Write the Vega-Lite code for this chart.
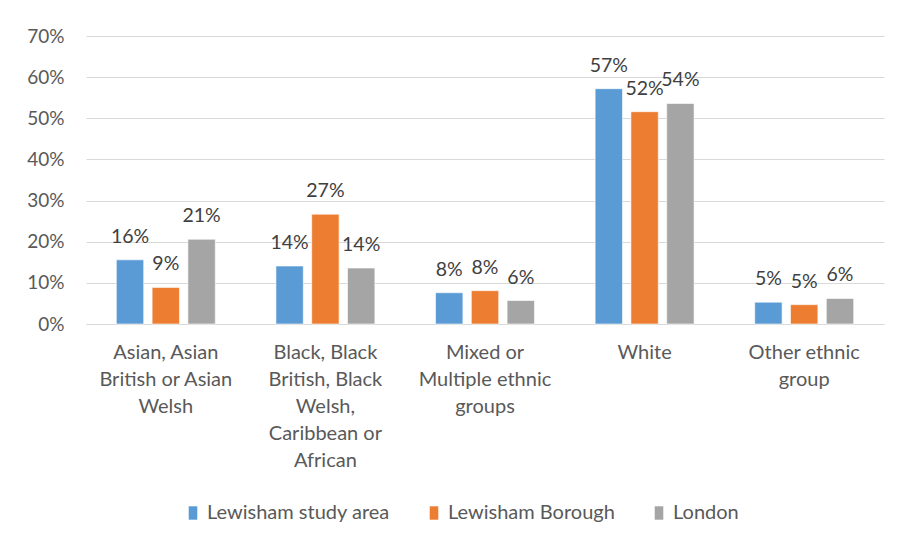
{
  "$schema": "https://vega.github.io/schema/vega-lite/v6.json",
  "width": 798,
  "height": 288,
  "autosize": "none",
  "padding": {"left": 86, "top": 36, "right": 13, "bottom": 222},
  "background": "white",
  "config": {
    "font": "Lato",
    "view": {"stroke": null},
    "axis": {"labelFont": "Lato", "labelColor": "#595959", "labelFontSize": 19}
  },
  "data": {
    "values": [
      {"group": "Asian, Asian British or Asian Welsh", "area": "Lewisham study area", "share": 0.156},
      {"group": "Asian, Asian British or Asian Welsh", "area": "Lewisham Borough", "share": 0.089},
      {"group": "Asian, Asian British or Asian Welsh", "area": "London", "share": 0.206},
      {"group": "Black, Black British, Black Welsh, Caribbean or African", "area": "Lewisham study area", "share": 0.141},
      {"group": "Black, Black British, Black Welsh, Caribbean or African", "area": "Lewisham Borough", "share": 0.267},
      {"group": "Black, Black British, Black Welsh, Caribbean or African", "area": "London", "share": 0.136},
      {"group": "Mixed or Multiple ethnic groups", "area": "Lewisham study area", "share": 0.076},
      {"group": "Mixed or Multiple ethnic groups", "area": "Lewisham Borough", "share": 0.081},
      {"group": "Mixed or Multiple ethnic groups", "area": "London", "share": 0.057},
      {"group": "White", "area": "Lewisham study area", "share": 0.572},
      {"group": "White", "area": "Lewisham Borough", "share": 0.516},
      {"group": "White", "area": "London", "share": 0.536},
      {"group": "Other ethnic group", "area": "Lewisham study area", "share": 0.053},
      {"group": "Other ethnic group", "area": "Lewisham Borough", "share": 0.047},
      {"group": "Other ethnic group", "area": "London", "share": 0.062}
    ]
  },
  "encoding": {
    "x": {
      "field": "group",
      "type": "nominal",
      "sort": null,
      "scale": {"paddingInner": 0.38, "paddingOuter": 0.19},
      "axis": {
        "title": null,
        "labelAngle": 0,
        "ticks": false,
        "domainColor": "#D9D9D9",
        "domainWidth": 1,
        "labelPadding": 18,
        "labelFontSize": 20,
        "labelBaseline": "top",
        "labelLineHeight": 27,
        "labelLimit": 0,
        "labelExpr": "({'Asian, Asian British or Asian Welsh': ['Asian, Asian', 'British or Asian', 'Welsh'], 'Black, Black British, Black Welsh, Caribbean or African': ['Black, Black', 'British, Black', 'Welsh,', 'Caribbean or', 'African'], 'Mixed or Multiple ethnic groups': ['Mixed or', 'Multiple ethnic', 'groups'], 'White': ['White'], 'Other ethnic group': ['Other ethnic', 'group']})[datum.value]"
      }
    },
    "xOffset": {
      "field": "area",
      "type": "nominal",
      "sort": ["Lewisham study area", "Lewisham Borough", "London"],
      "scale": {"paddingInner": 0.235, "paddingOuter": 0}
    },
    "y": {
      "field": "share",
      "type": "quantitative",
      "scale": {"domain": [0, 0.7], "nice": false},
      "axis": {
        "title": null,
        "format": ".0%",
        "values": [0, 0.1, 0.2, 0.3, 0.4, 0.5, 0.6, 0.7],
        "labelOverlap": false,
        "ticks": false,
        "domain": false,
        "labelPadding": 22,
        "gridColor": "#D9D9D9",
        "gridWidth": 1.2
      }
    }
  },
  "layer": [
    {
      "mark": {"type": "bar", "stroke": "white", "strokeWidth": 0.6},
      "encoding": {
        "color": {
          "field": "area",
          "type": "nominal",
          "sort": ["Lewisham study area", "Lewisham Borough", "London"],
          "scale": {"domain": ["Lewisham study area", "Lewisham Borough", "London"], "range": ["#5B9BD5", "#ED7D31", "#A5A5A5"]},
          "legend": {
            "title": null,
            "orient": "none",
            "direction": "horizontal",
            "legendX": 97,
            "legendY": 467,
            "symbolType": "M-0.64,-1H0.64V1H-0.64Z",
            "symbolSize": 180,
            "symbolStrokeWidth": 0,
            "symbolOpacity": 1,
            "labelFont": "Lato",
            "labelFontSize": 20,
            "labelColor": "#595959",
            "labelOffset": 4,
            "columnPadding": 34,
            "labelLimit": 0
          }
        }
      }
    },
    {
      "mark": {"type": "text", "baseline": "alphabetic", "dy": -17, "fontSize": 19.5, "color": "#404040", "font": "Lato"},
      "encoding": {
        "text": {"field": "share", "type": "quantitative", "format": ".0%"}
      }
    }
  ]
}
